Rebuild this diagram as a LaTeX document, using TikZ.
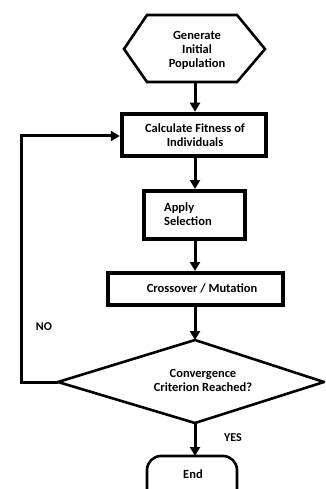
\documentclass[tikz,border=0pt]{standalone}
\usepackage{fontspec}
\setmainfont{Carlito}
\usetikzlibrary{arrows.meta}
\begin{document}
\begin{tikzpicture}[x=1pt,y=-1pt,
  txt/.style={font=\bfseries\fontsize{12.5}{14}\selectfont, align=center, inner sep=0pt},
  boxnode/.style={draw, line width=4pt, inner sep=0pt},
  outline/.style={draw, line width=2.6pt, line join=miter},
  conn/.style={line width=3pt, -{Triangle[length=9pt,width=10pt]}},
  lbl/.style={font=\bfseries\fontsize{12}{13}\selectfont, inner sep=0pt}]
\useasboundingbox (0,0) rectangle (325,489);
\fill[white] (0,0) rectangle (325,489);
\clip (0,0) rectangle (325,489);

% hexagon
\coordinate (hexS) at (195,82);
\draw[outline] (124,49) -- (147,15) -- (237,15) -- (265,49) -- (237,82) -- (147,82) -- cycle;
\node[txt] (gen) at (197,50) {Generate\\Initial\\Population};

% boxes
\node[boxnode, minimum width=144.5pt, minimum height=42.5pt] (calc) at (194,135) {};
\node[txt] (calct) at (195,135.5) {Calculate Fitness of\\Individuals};

\node[boxnode, minimum width=101pt, minimum height=48pt] (sel) at (194.5,215) {};
\node[txt, align=left, anchor=west] (selt) at (164,214) {Apply\\Selection};

\node[boxnode, minimum width=175pt, minimum height=32pt] (cross) at (195.5,289) {};
\node[txt] (crosst) at (202,288.5) {Crossover / Mutation};

% diamond
\coordinate (dT) at (195,340);
\coordinate (dR) at (324,382);
\coordinate (dB) at (195,423);
\coordinate (dL) at (58,382);
\draw[outline] (dT) -- (dR) -- (dB) -- (dL) -- cycle;
\node[txt] (conv) at (203,380) {Convergence\\Criterion Reached?};

% end terminator (cut off at bottom)
\draw[outline, rounded corners=14pt] (147,495) -- (147,456) -- (237,456) -- (237,495);
\coordinate (endN) at (192,456);
\node[txt] (endt) at (193,474) {End};

% connectors
\draw[conn] (hexS) -- (calc.north -| hexS);
\draw[conn] (calc.south -| hexS) -- (sel.north -| hexS);
\draw[conn] (sel.south -| hexS) -- (cross.north -| hexS);
\draw[conn] (cross.south -| hexS) -- (dT);
\draw[conn] (dB) -- (195,456);
\coordinate (loopB) at (21,382);
\coordinate (loopT) at (21,136);
\draw[conn, line join=miter] (dL) -- (loopB) -- (loopT) -- (calc.west |- loopT);

% labels
\node[lbl] (no) at (44,327) {NO};
\node[lbl] (yes) at (233,438) {YES};
\end{tikzpicture}
\end{document}
